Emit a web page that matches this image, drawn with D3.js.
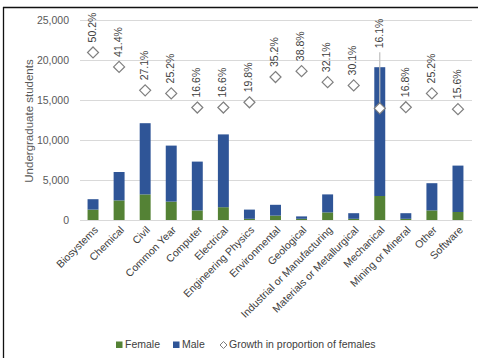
<!DOCTYPE html>
<html>
<head>
<meta charset="utf-8">
<script src="https://cdn.jsdelivr.net/npm/d3@7"></script>
<style>
  html, body { margin: 0; padding: 0; background: #fff; }
  svg { display: block; font-family: "Liberation Sans", Arial, sans-serif; }
</style>
</head>
<body>
<svg id="chart" width="478" height="358"></svg>
<script>
// Engineering programs
const categories = ["Biosystems", "Chemical", "Civil", "Common Year", "Computer", "Electrical",
  "Engineering Physics", "Environmental", "Geological", "Industrial or Manufacturing",
  "Materials or Metallurgical", "Mechanical", "Mining or Mineral", "Other", "Software"];

// Undergraduate enrolment by sex
const female = [1300, 2450, 3200, 2300, 1200, 1600, 150, 550, 150, 950, 150, 3000, 150, 1200, 1000];
const male   = [1300, 3550, 8900, 7000, 6100, 9100, 1150, 1350, 300, 2250, 700, 16100, 700, 3400, 5800];

// Growth in proportion of females (secondary, unlabelled axis)
const growth = [0.502, 0.414, 0.271, 0.252, 0.166, 0.166, 0.198, 0.352, 0.388, 0.321, 0.301, 0.161, 0.168, 0.252, 0.156];

const yTicks = [0, 5000, 10000, 15000, 20000, 25000];
const seriesNames = ["Female", "Male", "Growth in proportion of females"];
const colors = { Female: "#548235", Male: "#2F5597" };

const svg = d3.select("#chart");

// frame edges
svg.append("line").attr("x1", 3.5).attr("x2", 3.5).attr("y1", 7).attr("y2", 358)
  .attr("stroke", "#111").attr("stroke-width", 1.3);
svg.append("line").attr("x1", 3).attr("x2", 478).attr("y1", 7.5).attr("y2", 7.5)
  .attr("stroke", "#111").attr("stroke-width", 1.3);

const x = d3.scaleBand().domain(categories).range([80, 471]).paddingInner(0.58).paddingOuter(0.29);
const y = d3.scaleLinear().domain([0, 25000]).range([220, 20]);
const y2 = d3.scaleLinear().domain([-0.52, 0.70]).range([220, 20]);

// gridlines
svg.append("g").selectAll("line").data(yTicks).join("line")
  .attr("x1", 80).attr("x2", 472)
  .attr("y1", d => Math.round(y(d)) + 0.5).attr("y2", d => Math.round(y(d)) + 0.5)
  .attr("stroke", "#d9d9d9").attr("stroke-width", 1);

// y axis labels
const yAxis = d3.axisLeft(y).tickValues(yTicks).tickFormat(d3.format(",")).tickSize(0).tickPadding(0);
const gy = svg.append("g").attr("transform", "translate(69,0)").call(yAxis);
gy.select(".domain").remove();
gy.selectAll("text").attr("font-size", 10.5).attr("fill", "#595959")
  .attr("font-family", "Liberation Sans, Arial, sans-serif");

svg.append("text").attr("transform", "translate(30,121) rotate(-90)")
  .attr("text-anchor", "middle").attr("dominant-baseline", "middle")
  .attr("font-size", 11.5).attr("fill", "#595959").text("Undergraduate students");

// stacked bars
const rows = categories.map((c, i) => ({ cat: c, Female: female[i], Male: male[i] }));
const stack = d3.stack().keys(["Female", "Male"])(rows);
svg.append("g").selectAll("g").data(stack).join("g")
  .attr("fill", d => colors[d.key])
  .selectAll("rect").data(d => d).join("rect")
  .attr("x", d => x(d.data.cat))
  .attr("width", x.bandwidth())
  .attr("y", d => y(d[1]))
  .attr("height", d => y(d[0]) - y(d[1]));

// x axis line
svg.append("line").attr("x1", 80).attr("x2", 472).attr("y1", 220.5).attr("y2", 220.5)
  .attr("stroke", "#d9d9d9");

// x labels
svg.append("g").selectAll("text").data(categories).join("text")
  .attr("transform", d => `translate(${x(d) + x.bandwidth() / 2 + 3},228) rotate(-45)`)
  .attr("text-anchor", "end").attr("dy", "0.35em")
  .attr("font-size", 10.5).attr("fill", "#404040").text(d => d);

// growth markers with rotated value labels
const cx = d => x(d) + x.bandwidth() / 2;
const pts = categories.map((c, i) => ({ cat: c, v: growth[i] }));
const lifted = { "Mechanical": 60 };

svg.append("g").selectAll("line").data(pts.filter(p => lifted[p.cat])).join("line")
  .attr("x1", p => cx(p.cat)).attr("x2", p => cx(p.cat))
  .attr("y1", p => y2(p.v) - 5).attr("y2", p => y2(p.v) - lifted[p.cat] + 4)
  .attr("stroke", "#bfbfbf").attr("stroke-width", 1.2);

svg.append("g").selectAll("path").data(pts).join("path")
  .attr("d", "M0,-5.5L5.5,0L0,5.5L-5.5,0Z")
  .attr("transform", p => `translate(${cx(p.cat)},${y2(p.v)})`)
  .attr("fill", "#fff").attr("stroke", "#7f7f7f").attr("stroke-width", 1.2);

svg.append("g").selectAll("text").data(pts).join("text")
  .attr("transform", p => `translate(${cx(p.cat)},${y2(p.v) - (lifted[p.cat] || 10)}) rotate(-90)`)
  .attr("text-anchor", "start").attr("dominant-baseline", "middle")
  .attr("font-size", 10.5).attr("fill", "#404040")
  .text(p => d3.format(".1%")(p.v));

// legend
const lg = svg.append("g").attr("transform", "translate(0,345)");
const legendItems = [
  { name: seriesNames[0], x: 116, type: "rect", color: colors.Female },
  { name: seriesNames[1], x: 173, type: "rect", color: colors.Male },
  { name: seriesNames[2], x: 220, type: "diamond" }
];
legendItems.forEach(it => {
  if (it.type === "rect") {
    lg.append("rect").attr("x", it.x).attr("y", -3.5).attr("width", 6.5).attr("height", 6.5).attr("fill", it.color);
  } else {
    lg.append("path").attr("d", "M0,-3.5L3.5,0L0,3.5L-3.5,0Z")
      .attr("transform", `translate(${it.x + 3.5},0)`)
      .attr("fill", "#fff").attr("stroke", "#7f7f7f").attr("stroke-width", 1);
  }
  lg.append("text").attr("x", it.x + 9).attr("y", 0).attr("dominant-baseline", "middle")
    .attr("font-size", 10.5).attr("fill", "#404040").text(it.name);
});
</script>
</body>
</html>
